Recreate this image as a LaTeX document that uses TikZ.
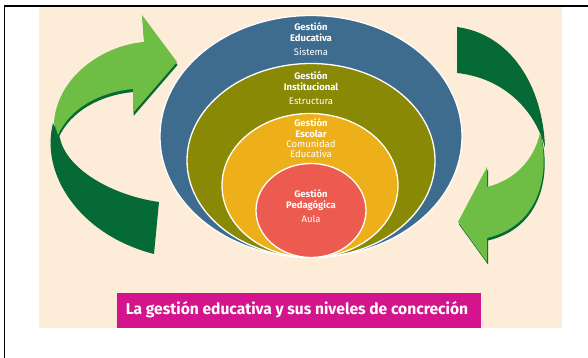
\documentclass[tikz,border=0pt]{standalone}
\usepackage{fontspec}
\setmainfont{Fira Sans}
\definecolor{beige}{RGB}{253,236,216}
\definecolor{lgreen}{RGB}{110,190,70}
\definecolor{dgreen}{RGB}{6,106,54}
\definecolor{eblue}{RGB}{62,108,143}
\definecolor{eolive}{RGB}{137,137,6}
\definecolor{eyellow}{RGB}{237,176,26}
\definecolor{ered}{RGB}{237,90,80}
\definecolor{epink}{RGB}{212,20,140}
\begin{document}
\begin{tikzpicture}[x=1pt,y=-1pt,
  ring/.style={draw=white,line width=1.3pt},
  lblb/.style={text=white,font=\bfseries\fontsize{9.5}{10}\selectfont,inner sep=0pt},
  lblr/.style={text=white,font=\fontsize{9.5}{10}\selectfont,inner sep=0pt},
  frameline/.style={line width=1.6pt,black}]
\useasboundingbox (0,0) rectangle (588,358);
% background
\fill[beige] (39,7) rectangle (562,328);
\draw[frameline] (4.5,358) -- (4.5,5.8) -- (588,5.8);
% ellipses
\fill[ring,fill=eblue] (311,136.5) ellipse [x radius=151pt, y radius=121pt];
\fill[ring,fill=eolive] (311,160.5) ellipse [x radius=124pt, y radius=97pt];
\fill[ring,fill=eyellow] (310,185.5) ellipse [x radius=88pt, y radius=72pt];
\fill[ring,fill=ered] (311,210.5) ellipse [x radius=55pt, y radius=47pt];
% labels
\node[lblb] (e1) at (311,27) {Gestión};
\node[lblb] (e2) at (311,38) {Educativa};
\node[lblr] (e3) at (311,52) {Sistema};
\node[lblb] (i1) at (311,76) {Gestión};
\node[lblb] (i2) at (311,87) {Institucional};
\node[lblr] (i3) at (311,101) {Estructura};
\node[lblb] (s1) at (311,123) {Gestión};
\node[lblb] (s2) at (311,133.5) {Escolar};
\node[lblr] (s3) at (311,144) {Comunidad};
\node[lblr] (s4) at (311,153.5) {Educativa};
\node[lblb] (p1) at (311,194) {Gestión};
\node[lblb] (p2) at (311,206) {Pedagógica};
\node[lblr] (p3) at (311,219) {Aula};
% left arrow
\fill[dgreen] (53,123) .. controls (40,175) and (80,235) .. (154,254)
  -- (159,202) .. controls (110,195) and (66,168) .. (60,138) -- cycle;
\begin{scope}[shift={(0.5,3)}]
\fill[dgreen] (54,122) .. controls (58,75) and (105,45) .. (144,42)
  -- (142,15) -- (177,62) -- (133,113) -- (133,89)
  .. controls (100,92) and (70,108) .. (58,135) -- cycle;
\end{scope}
\fill[lgreen] (54,122) .. controls (58,75) and (105,45) .. (144,42)
  -- (142,15) -- (177,62) -- (133,113) -- (133,89)
  .. controls (100,92) and (70,108) .. (58,135) -- cycle;
% right arrow
\fill[dgreen] (457,27) .. controls (510,34) and (543,85) .. (545,148)
  .. controls (536,112) and (505,78) .. (457,73) -- cycle;
\begin{scope}[shift={(1,2.5)}]
\fill[dgreen] (540,133) .. controls (550,170) and (542,225) .. (487,238)
  -- (487,262) -- (458,222) -- (487,167) -- (487,187)
  .. controls (515,180) and (534,160) .. (540,133) -- cycle;
\end{scope}
\fill[lgreen] (540,133) .. controls (550,170) and (542,225) .. (487,238)
  -- (487,262) -- (458,222) -- (487,167) -- (487,187)
  .. controls (515,180) and (534,160) .. (540,133) -- cycle;
% title
\fill[epink] (117,293) rectangle (481,328);
\node[text=white,font=\bfseries\fontsize{15.6}{17}\selectfont,inner sep=0pt] (t) at (297,310) {La gestión educativa y sus niveles de concreción};
\end{tikzpicture}
\end{document}
